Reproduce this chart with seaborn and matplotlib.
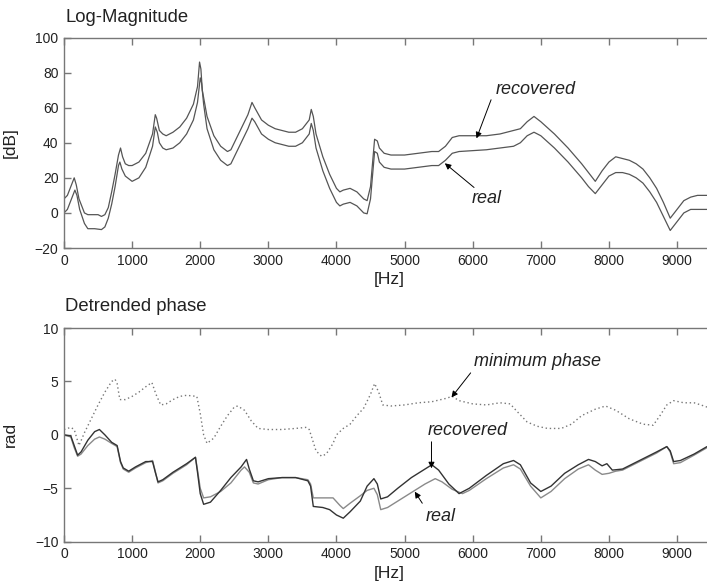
import numpy as np
import pandas as pd
import matplotlib
matplotlib.use("Agg")
import matplotlib.pyplot as plt
import seaborn as sns

# ---------------- data ----------------
mag_freq_rec = [0, 50, 100, 150, 180, 220, 300, 350, 400, 500, 550, 600, 650, 700, 750, 800, 830, 860, 900, 950,
                1000, 1100, 1200, 1300, 1340, 1360, 1400, 1450, 1500, 1600, 1700, 1800, 1900, 1960, 1990, 2010,
                2030, 2100, 2200, 2300, 2400, 2450, 2500, 2600, 2700, 2760, 2800, 2900, 3000, 3100, 3200, 3300,
                3400, 3500, 3600, 3630, 3660, 3700, 3800, 3900, 4000, 4050, 4100, 4200, 4300, 4400, 4450, 4500,
                4560, 4600, 4630, 4700, 4800, 5000, 5200, 5400, 5500, 5600, 5700, 5800, 6000, 6200, 6400, 6600,
                6700, 6800, 6900, 7000, 7200, 7400, 7600, 7700, 7800, 7900, 8000, 8100, 8200, 8300, 8400, 8500,
                8600, 8700, 8800, 8900, 9000, 9100, 9200, 9300, 9440]
mag_recovered = [8, 10, 15, 20, 16, 8, 0, -1, -1, -1, -2, -1, 3, 12, 22, 33, 37, 32, 28, 27,
                 27, 29, 34, 45, 56, 54, 47, 45, 44, 46, 49, 54, 62, 72, 86, 82,
                 70, 55, 44, 38, 35, 36, 40, 48, 56, 63, 60, 53, 50, 48, 47, 46,
                 46, 48, 53, 59, 55, 45, 32, 22, 14, 12, 13, 14, 12, 8, 7, 15,
                 42, 41, 37, 34, 33, 33, 34, 35, 35, 38, 43, 44, 44, 44, 45, 47,
                 48, 52, 55, 52, 45, 37, 28, 23, 18, 24, 29, 32, 31, 30, 28, 25,
                 20, 14, 6, -3, 2, 7, 9, 10, 10]

mag_freq_real = [0, 50, 100, 160, 190, 230, 300, 350, 450, 550, 600, 650, 700, 750, 800, 820, 850, 900, 1000,
                 1100, 1200, 1300, 1340, 1370, 1400, 1450, 1500, 1600, 1700, 1800, 1900, 1960, 2000, 2020, 2050,
                 2100, 2200, 2300, 2400, 2450, 2500, 2600, 2700, 2760, 2800, 2900, 3000, 3100, 3200, 3300, 3400,
                 3500, 3600, 3630, 3660, 3700, 3800, 3900, 4000, 4050, 4100, 4200, 4300, 4400, 4450, 4500, 4560,
                 4600, 4630, 4700, 4800, 5000, 5200, 5400, 5500, 5600, 5700, 5800, 6000, 6200, 6400, 6600, 6700,
                 6800, 6900, 7000, 7200, 7400, 7600, 7700, 7800, 7900, 8000, 8100, 8200, 8300, 8400, 8500, 8600,
                 8700, 8800, 8900, 9000, 9100, 9200, 9300, 9440]
mag_real = [0, 2, 7, 13, 10, 2, -6, -9, -9, -9.5, -8, -3, 5, 15, 27, 29, 25, 21, 18,
            20, 26, 38, 49, 46, 40, 37, 36, 37, 40, 45, 53, 63, 77, 74, 62,
            48, 36, 30, 27, 28, 32, 40, 48, 54, 52, 45, 42, 40, 39, 38, 38,
            40, 45, 51, 47, 37, 24, 14, 6, 4, 5, 6, 4, 0, -0.5, 8, 35,
            34, 29, 26, 25, 25, 26, 27, 27, 30, 34, 35, 35.5, 36, 37, 38, 40,
            44, 46, 44, 37, 29, 20, 15, 11, 16, 21, 23, 23, 22, 20, 17, 12,
            6, -2, -10, -5, 0, 2, 2, 2]

ph_freq_rec = [0, 100, 150, 200, 250, 350, 450, 520, 600, 700, 780, 830, 870, 950, 1050, 1200, 1300, 1340,
               1380, 1450, 1600, 1800, 1930, 1960, 2000, 2050, 2150, 2300, 2450, 2600, 2680, 2720, 2780, 2850,
               3000, 3200, 3400, 3580, 3620, 3660, 3800, 3900, 4000, 4100, 4200, 4350, 4450, 4550, 4600, 4650,
               4750, 4900, 5100, 5300, 5400, 5500, 5650, 5800, 5950, 6200, 6450, 6600, 6700, 6850, 7000, 7150,
               7350, 7550, 7700, 7800, 7900, 7970, 8050, 8200, 8450, 8700, 8850, 8900, 8950, 9050, 9250, 9440]
phase_recovered = [0, -0.1, -1.0, -1.9, -1.6, -0.5, 0.3, 0.5, 0.0, -0.7, -1.0, -2.5, -3.1, -3.4, -3.0, -2.5, -2.5, -3.5,
                   -4.4, -4.2, -3.5, -2.7, -2.1, -3.5, -5.5, -6.5, -6.3, -5.2, -4.0, -3.0, -2.3, -3.2, -4.3, -4.4,
                   -4.1, -4.0, -4.0, -4.3, -4.8, -6.7, -6.8, -7.0, -7.5, -7.8, -7.2, -6.2, -4.8, -4.1, -4.6, -6.0,
                   -5.8, -5.0, -4.0, -3.2, -2.8, -3.3, -4.6, -5.5, -5.0, -3.8, -2.7, -2.4, -2.8, -4.5, -5.3, -4.8,
                   -3.6, -2.8, -2.3, -2.5, -2.9, -2.7, -3.3, -3.2, -2.4, -1.6, -1.1, -1.5, -2.5, -2.4, -1.8, -1.1]

ph_freq_real = [0, 100, 150, 200, 250, 350, 450, 520, 600, 700, 780, 830, 870, 950, 1050, 1200, 1300, 1340,
                1380, 1450, 1600, 1800, 1930, 1960, 2000, 2050, 2150, 2300, 2450, 2600, 2650, 2720, 2780, 2850,
                3000, 3200, 3400, 3580, 3620, 3660, 3800, 3950, 4050, 4100, 4200, 4350, 4450, 4550, 4600, 4650,
                4750, 4900, 5100, 5300, 5450, 5550, 5700, 5850, 5950, 6200, 6450, 6600, 6700, 6850, 7000, 7150,
                7350, 7550, 7700, 7800, 7900, 8000, 8100, 8200, 8450, 8700, 8850, 8900, 8950, 9050, 9250, 9440]
phase_real = [0, -0.2, -1.2, -2.0, -1.8, -1.0, -0.4, -0.2, -0.4, -0.8, -1.1, -2.6, -3.2, -3.5, -3.1, -2.6, -2.4, -3.4,
              -4.5, -4.3, -3.6, -2.8, -2.1, -3.3, -5.0, -5.9, -5.8, -5.3, -4.5, -3.3, -3.0, -3.5, -4.5, -4.6,
              -4.2, -4.0, -4.0, -4.2, -4.6, -5.9, -5.9, -5.9, -6.6, -6.9, -6.4, -5.7, -5.2, -5.0, -5.6, -7.0,
              -6.8, -6.2, -5.4, -4.6, -4.1, -4.4, -5.1, -5.5, -5.2, -4.1, -3.1, -2.8, -3.2, -4.8, -5.9, -5.3,
              -4.1, -3.2, -2.8, -3.3, -3.7, -3.6, -3.4, -3.3, -2.5, -1.7, -1.1, -1.6, -2.7, -2.6, -1.9, -1.2]

ph_freq_min = [0, 100, 150, 220, 300, 400, 500, 600, 700, 750, 780, 820, 900, 1000, 1100, 1200, 1290, 1350,
               1420, 1500, 1600, 1700, 1800, 1950, 2000, 2050, 2100, 2200, 2300, 2400, 2500, 2550, 2650, 2750,
               2850, 3000, 3200, 3400, 3550, 3600, 3650, 3700, 3780, 3850, 3950, 4000, 4100, 4200, 4300, 4400,
               4500, 4560, 4620, 4680, 4800, 5000, 5200, 5400, 5600, 5700, 5800, 6000, 6200, 6400, 6550, 6650,
               6800, 6950, 7100, 7300, 7450, 7600, 7800, 7950, 8100, 8300, 8500, 8650, 8750, 8850, 8950, 9100,
               9250, 9350, 9440]
phase_minimum = [0.5, 0.7, 0.5, -1.0, 0.2, 1.5, 2.8, 4.0, 5.0, 5.2, 4.8, 3.3, 3.3, 3.6, 4.0, 4.5, 4.9, 3.8,
                 2.8, 2.9, 3.3, 3.6, 3.7, 3.6, 2.0, 0.0, -0.8, -0.3, 0.8, 1.8, 2.6, 2.7, 2.3, 1.3,
                 0.6, 0.5, 0.5, 0.6, 0.7, 0.5, -0.5, -1.5, -2.0, -1.8, -0.8, 0.0, 0.6, 1.0, 1.8, 2.5,
                 3.8, 4.8, 4.0, 2.8, 2.7, 2.8, 3.0, 3.1, 3.4, 3.6, 3.2, 2.9, 2.8, 3.0, 2.9, 2.2,
                 1.2, 0.8, 0.6, 0.6, 1.0, 1.8, 2.4, 2.7, 2.3, 1.5, 1.0, 0.9, 1.8, 2.8, 3.2, 3.0,
                 3.0, 2.8, 2.6]

x_ticks = [0, 1000, 2000, 3000, 4000, 5000, 6000, 7000, 8000, 9000]
mag_ticks = [-20, 0, 20, 40, 60, 80, 100]
phase_ticks = [-10, -5, 0, 5, 10]

# ---------------- figure ----------------
sns.set_theme(style="white")
plt.rcParams['font.family'] = ['Liberation Sans', 'DejaVu Sans']
plt.rcParams['axes.edgecolor'] = '#777777'
plt.rcParams['axes.linewidth'] = 1.0
plt.rcParams['xtick.color'] = '#777777'
plt.rcParams['ytick.color'] = '#777777'
plt.rcParams['xtick.labelcolor'] = '#222222'
plt.rcParams['ytick.labelcolor'] = '#222222'

W, H = 707, 585
fig = plt.figure(figsize=(W / 100, H / 100), dpi=100)
left = 64 / W
ax1 = fig.add_axes([left, (H - 248) / H, 1 - left, (248 - 37.5) / H])
ax2 = fig.add_axes([left, (H - 541.7) / H, 1 - left, (541.7 - 328) / H])

line_col = '#555555'
sns.lineplot(x=mag_freq_rec, y=mag_recovered, ax=ax1, color=line_col, lw=0.9)
sns.lineplot(x=mag_freq_real, y=mag_real, ax=ax1, color=line_col, lw=0.9)

sns.lineplot(x=ph_freq_min, y=phase_minimum, ax=ax2, color='#777777', lw=1.0, linestyle=(0, (1, 2)))
sns.lineplot(x=ph_freq_real, y=phase_real, ax=ax2, color='#8a8a8a', lw=1.0)
sns.lineplot(x=ph_freq_rec, y=phase_recovered, ax=ax2, color='#333333', lw=1.0)

for ax, yt, ylab, title in [(ax1, mag_ticks, '[dB]', 'Log-Magnitude'),
                            (ax2, phase_ticks, 'rad', 'Detrended phase')]:
    ax.set_xlim(0, 9440)
    ax.set_ylim(yt[0], yt[-1])
    ax.set_xticks(x_ticks)
    ax.set_yticks(yt)
    ax.tick_params(direction='in', length=5, width=1, labelsize=10, pad=4,
                   top=True, bottom=True, left=True, right=False)
    ax.spines['right'].set_visible(False)
    ax.set_xlabel('[Hz]', fontsize=12.5, color='#222222')
    ax.set_ylabel(ylab, fontsize=12.5, color='#222222')
    ax.yaxis.set_label_coords(-46 / 643, 0.5)
    ax.text(0.002, 1.0, title, transform=ax.transAxes, fontsize=13.3, color='#222222',
            ha='left', va='bottom')

ax1.xaxis.set_label_coords(0.5 + 4 / 643, -24 / 210.5)
ax2.xaxis.set_label_coords(0.5 + 4 / 643, -24 / 213.7)
ax1.texts[0].set_position((0.002, 1 + 12 / 210.5))
ax2.texts[0].set_position((0.002, 1 + 13 / 213.7))

arrow = dict(arrowstyle='-|>', color='black', lw=0.7, mutation_scale=9, shrinkA=0, shrinkB=0)
tk = dict(fontsize=13, style='italic', color='#222222', ha='center', va='center')
ax1.annotate('', xy=(6056, 42.5), xytext=(6270, 64.5), arrowprops=arrow)
ax1.text(6920, 70.5, 'recovered', **tk)
ax1.annotate('', xy=(5591, 28.3), xytext=(6020, 14.5), arrowprops=arrow)
ax1.text(6200, 8.5, 'real', **tk)

ax2.annotate('', xy=(5689, 3.51), xytext=(5970, 5.8), arrowprops=arrow)
ax2.text(6950, 6.9, 'minimum phase', **tk)
ax2.annotate('', xy=(5395, -3.13), xytext=(5395, -0.65), arrowprops=arrow)
ax2.text(5920, 0.45, 'recovered', **tk)
ax2.annotate('', xy=(5150, -5.32), xytext=(5260, -6.4), arrowprops=arrow)
ax2.text(5530, -7.6, 'real', **tk)

fig.savefig('out.png', dpi=100)
